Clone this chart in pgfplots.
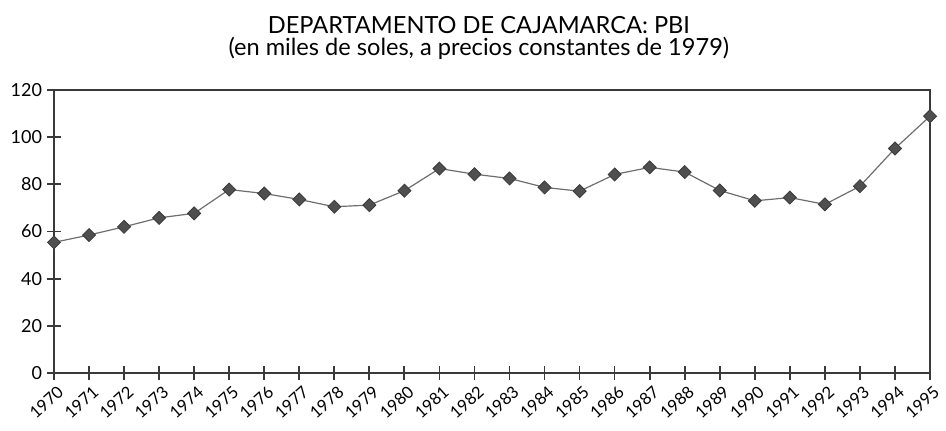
\documentclass[border=0pt]{standalone}
\usepackage{pgfplots}
\pgfplotsset{compat=1.18}
\usepackage{fontspec}
\setmainfont{Lato}
\definecolor{mk}{HTML}{4F4F4F}
\definecolor{ln}{HTML}{6E6E6E}
\definecolor{ax}{HTML}{3A3A3A}
\begin{document}
\begin{tikzpicture}
\path[use as bounding box] (-27pt,-28.5pt) rectangle (446pt,186.5pt);
\begin{axis}[
  scale only axis,
  width=438pt, height=141.5pt,
  at={(0,0)}, anchor=south west,
  xmin=1970, xmax=1995, ymin=0, ymax=120,
  xtick={1970,...,1995},
  ytick={0,20,...,120},
  /pgf/number format/assume math mode=true,
  x tick label style={/pgf/number format/1000 sep={}, rotate=42, anchor=north east, inner sep=0.5pt, font=\fontsize{8.3}{9}\selectfont, yshift=-2pt},
  y tick label style={font=\fontsize{9}{10}\selectfont, xshift=1pt},
  tick align=center,
  major tick length=7pt,
  tick style={ax, line width=0.9pt},
  axis line style={ax, line width=1pt},
  xtick pos=bottom, ytick pos=left,
  clip=false,
]
\addplot[ln, line width=0.6pt, mark=square*, mark size=2.3pt,
  mark options={rotate=45, fill=mk, draw=ax, line width=0.4pt}]
coordinates {
(1970,55.4) (1971,58.5) (1972,62.0) (1973,65.8) (1974,67.7)
(1975,77.8) (1976,76.1) (1977,73.6) (1978,70.5) (1979,71.2)
(1980,77.3) (1981,86.7) (1982,84.3) (1983,82.5) (1984,78.7)
(1985,77.1) (1986,84.2) (1987,87.2) (1988,85.2) (1989,77.4)
(1990,73.0) (1991,74.4) (1992,71.5) (1993,79.2) (1994,95.2)
(1995,108.9)
};
\node[anchor=base, font=\fontsize{11.8}{13}\selectfont, inner sep=0pt] at (rel axis cs:0.485,1) [yshift=28.5pt] {DEPARTAMENTO DE CAJAMARCA: PBI};
\node[anchor=base, font=\fontsize{11.8}{13}\selectfont, inner sep=0pt] at (rel axis cs:0.485,1) [yshift=17.5pt] {(en miles de soles, a precios constantes de 1979)};
\end{axis}
\end{tikzpicture}
\end{document}
